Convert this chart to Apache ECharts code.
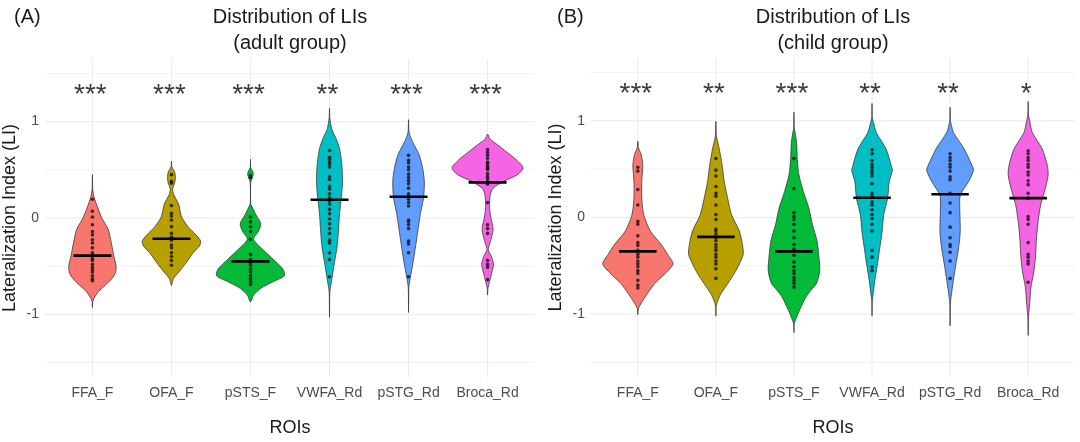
<!DOCTYPE html>
<html><head><meta charset="utf-8">
<script src="https://cdn.jsdelivr.net/npm/echarts@6/dist/echarts.min.js"></script>
<style>html,body{margin:0;padding:0;background:#fff}#c{width:1080px;height:442px}</style>
</head><body><div id="c"></div>
<script>
const categories = ['FFA_F','OFA_F','pSTS_F','VWFA_Rd','pSTG_Rd','Broca_Rd'];
const colors = ['#F8766D','#B79F00','#00BA38','#00BFC4','#619CFF','#F564E3'];
const adultStars = ['***','***','***','**','***','***'];
const childStars = ['***','**','***','**','**','*'];
const adultMedians = [-0.39,-0.215,-0.45,0.19,0.22,0.37];
const childMedians = [-0.35,-0.2,-0.35,0.205,0.24,0.2];
const yTicks = [-1,0,1];
const majorGrid = [-1,0,1];
const minorGrid = [-1.5,-0.5,0.5,1.5];

// violin outlines: [LI value, half width in category units]
const adultShapeFFA = [[0.45,0],[0.3,0.004],[0.22,0.02],[0.1,0.07],[0,0.12],[-0.12,0.2],[-0.26,0.24],[-0.39,0.27],[-0.5,0.3],[-0.57,0.29],[-0.63,0.245],[-0.7,0.16],[-0.76,0.08],[-0.82,0.03],[-0.86,0.006],[-0.93,0]];
const adultShapeOFA = [[0.59,0],[0.53,0.005],[0.48,0.04],[0.42,0.05],[0.36,0.04],[0.3,0.015],[0.24,0.03],[0.145,0.09],[0.01,0.13],[-0.09,0.21],[-0.175,0.31],[-0.24,0.37],[-0.29,0.355],[-0.36,0.275],[-0.46,0.19],[-0.56,0.095],[-0.63,0.025],[-0.7,0]];
const adultShapePSTS = [[0.61,0],[0.52,0.004],[0.48,0.03],[0.45,0.035],[0.41,0.02],[0.37,0.003],[0.15,0.003],[0.1,0.03],[0.04,0.065],[-0.06,0.13],[-0.14,0.1],[-0.22,0.04],[-0.33,0.16],[-0.43,0.29],[-0.53,0.41],[-0.6,0.43],[-0.66,0.29],[-0.73,0.13],[-0.8,0.04],[-0.87,0]];
const adultShapeVWFA = [[1.14,0],[1.04,0.004],[0.98,0.015],[0.92,0.03],[0.82,0.085],[0.72,0.127],[0.55,0.156],[0.38,0.165],[0.21,0.15],[0.045,0.127],[-0.12,0.114],[-0.29,0.097],[-0.46,0.063],[-0.63,0.03],[-0.74,0.008],[-0.8,0.003],[-1.03,0]];
const adultShapePSTG = [[1.02,0],[0.9,0.005],[0.85,0.02],[0.78,0.057],[0.65,0.137],[0.51,0.18],[0.38,0.2],[0.21,0.19],[0.045,0.15],[-0.12,0.12],[-0.29,0.09],[-0.46,0.057],[-0.63,0.02],[-0.72,0.004],[-0.98,0]];
const adultShapeBroca = [[0.87,0],[0.82,0.03],[0.785,0.085],[0.68,0.25],[0.6,0.37],[0.52,0.45],[0.45,0.38],[0.38,0.2],[0.31,0.07],[0.245,0.035],[0.11,0.025],[0.01,0.04],[-0.12,0.07],[-0.26,0.03],[-0.33,0.008],[-0.4,0.05],[-0.48,0.075],[-0.56,0.055],[-0.66,0.025],[-0.72,0.006],[-0.8,0]];

const childShapeFFA = [[0.79,0],[0.72,0.008],[0.66,0.04],[0.6,0.055],[0.54,0.064],[0.37,0.05],[0.2,0.05],[0.03,0.075],[-0.14,0.16],[-0.28,0.3],[-0.38,0.38],[-0.48,0.45],[-0.58,0.35],[-0.68,0.22],[-0.79,0.12],[-0.89,0.04],[-0.94,0.008],[-1.005,0]];
const childShapeOFA = [[0.995,0],[0.85,0.006],[0.79,0.02],[0.71,0.043],[0.54,0.08],[0.37,0.107],[0.2,0.15],[0.03,0.2],[-0.14,0.3],[-0.28,0.34],[-0.38,0.35],[-0.48,0.3],[-0.58,0.235],[-0.68,0.155],[-0.79,0.064],[-0.87,0.02],[-0.92,0.004],[-1.02,0]];
const childShapePSTS = [[1.09,0],[0.92,0.004],[0.88,0.015],[0.77,0.034],[0.6,0.043],[0.44,0.064],[0.27,0.12],[0.1,0.19],[-0.07,0.235],[-0.24,0.295],[-0.41,0.32],[-0.55,0.33],[-0.68,0.29],[-0.75,0.22],[-0.82,0.155],[-0.95,0.077],[-1.05,0.025],[-1.1,0.004],[-1.19,0]];
const childShapeVWFA = [[1.18,0],[1.03,0.004],[0.98,0.02],[0.88,0.054],[0.71,0.18],[0.54,0.245],[0.49,0.26],[0.37,0.22],[0.2,0.2],[0.03,0.15],[-0.14,0.13],[-0.31,0.1],[-0.48,0.07],[-0.65,0.036],[-0.82,0.01],[-0.86,0.003],[-1.02,0]];
const childShapePSTG = [[1.14,0],[1.0,0.004],[0.96,0.015],[0.88,0.043],[0.71,0.18],[0.54,0.28],[0.49,0.3],[0.37,0.235],[0.23,0.13],[0.1,0.124],[-0.14,0.13],[-0.31,0.11],[-0.48,0.075],[-0.65,0.043],[-0.82,0.013],[-0.9,0.003],[-1.12,0]];
const childShapeBroca = [[1.2,0],[1.06,0.004],[1.0,0.02],[0.88,0.053],[0.71,0.18],[0.54,0.245],[0.44,0.256],[0.3,0.22],[0.13,0.16],[-0.04,0.128],[-0.21,0.107],[-0.38,0.096],[-0.55,0.075],[-0.72,0.036],[-0.89,0.02],[-0.99,0.008],[-1.05,0.003],[-1.22,0]];

// individual LI values
const adultFFA = [0.195,0.07,0.01,-0.07,-0.14,-0.175,-0.225,-0.26,-0.31,-0.36,-0.39,-0.42,-0.44,-0.48,-0.51,-0.535,-0.56,-0.6,-0.63,-0.65];
const adultOFA = [0.45,0.38,0.36,0.13,0.05,0.02,-0.02,-0.09,-0.16,-0.2,-0.23,-0.28,-0.31,-0.36,-0.4,-0.44,-0.49];
const adultPSTS = [0.44,0.42,0.01,-0.04,-0.09,-0.14,-0.22,-0.38,-0.43,-0.46,-0.49,-0.53,-0.56,-0.6,-0.63,-0.66,-0.69];
const adultVWFA = [0.7,0.63,0.61,0.58,0.56,0.53,0.43,0.4,0.33,0.3,0.25,0.21,0.18,0.145,0.09,0.045,-0.01,-0.06,-0.11,-0.16,-0.23,-0.26,-0.36,-0.43,-0.61];
const adultPSTG = [0.65,0.6,0.57,0.53,0.5,0.455,0.42,0.39,0.355,0.31,0.25,0.22,0.195,0.16,0.125,-0.02,-0.04,-0.07,-0.11,-0.24,-0.27,-0.36,-0.61];
const adultBroca = [0.71,0.68,0.65,0.62,0.58,0.57,0.55,0.53,0.515,0.5,0.46,0.43,0.41,0.38,0.35,0.16,-0.07,-0.11,-0.16,-0.44,-0.48,-0.51,-0.64];

const childFFA = [0.52,0.48,0.29,0.13,-0.04,-0.07,-0.19,-0.26,-0.29,-0.34,-0.38,-0.41,-0.45,-0.48,-0.51,-0.55,-0.58,-0.65,-0.7,-0.73];
const childOFA = [0.61,0.49,0.43,0.32,0.25,0.22,0.13,0.03,-0.02,-0.12,-0.14,-0.17,-0.21,-0.24,-0.28,-0.31,-0.34,-0.38,-0.41,-0.45,-0.48,-0.53,-0.63];
const childPSTS = [0.61,0.3,0.05,0.01,-0.02,-0.07,-0.14,-0.21,-0.28,-0.33,-0.39,-0.46,-0.51,-0.55,-0.58,-0.62,-0.65,-0.68,-0.72];
const childVWFA = [0.7,0.66,0.59,0.55,0.52,0.49,0.46,0.43,0.35,0.25,0.22,0.16,0.13,0.08,0.03,-0.01,-0.07,-0.14,-0.34,-0.41,-0.51,-0.55];
const childPSTG = [0.66,0.62,0.59,0.55,0.52,0.48,0.42,0.39,0.25,0.15,0.05,-0.1,-0.21,-0.28,-0.3,-0.36,-0.45,-0.63];
const childBroca = [0.69,0.66,0.62,0.59,0.55,0.52,0.47,0.44,0.38,0.34,0.25,0.2,0.01,-0.02,-0.07,-0.26,-0.38,-0.41,-0.45,-0.48,-0.67];

const adultShapes = [adultShapeFFA,adultShapeOFA,adultShapePSTS,adultShapeVWFA,adultShapePSTG,adultShapeBroca];
const childShapes = [childShapeFFA,childShapeOFA,childShapePSTS,childShapeVWFA,childShapePSTG,childShapeBroca];
const adultPoints = [adultFFA,adultOFA,adultPSTS,adultVWFA,adultPSTG,adultBroca];
const childPoints = [childFFA,childOFA,childPSTS,childVWFA,childPSTG,childBroca];

const FONT = '"Liberation Sans", Arial, sans-serif';
const STAR_Y = 1.275;
const BAR_HALF = 0.24;

function panelSeries(g, shapes, points, medians, stars) {
  const s = [];
  const gridData = majorGrid.map(v => [1, v, 1]).concat(minorGrid.map(v => [1, v, 0]));
  s.push({
    type: 'custom', xAxisIndex: g, yAxisIndex: g, z: 0, silent: true,
    data: gridData,
    renderItem: (params, api) => {
      const cs = params.coordSys;
      const y = api.coord([1, api.value(1)])[1];
      return {type: 'line', shape: {x1: cs.x, y1: y, x2: cs.x + cs.width, y2: y},
        style: {stroke: api.value(2) ? '#ebebeb' : '#f3f3f3', lineWidth: 1}};
    }
  });
  s.push({
    type: 'custom', xAxisIndex: g, yAxisIndex: g, z: 0, silent: true,
    data: categories.map((c, i) => [i + 1, 0]),
    renderItem: (params, api) => {
      const cs = params.coordSys;
      const x = api.coord([api.value(0), 0])[0];
      return {type: 'line', shape: {x1: x, y1: cs.y, x2: x, y2: cs.y + cs.height},
        style: {stroke: '#ebebeb', lineWidth: 1}};
    }
  });
  s.push({
    type: 'custom', xAxisIndex: g, yAxisIndex: g, z: 2, silent: true,
    data: categories.map((c, i) => [i + 1, 0]),
    renderItem: (params, api) => {
      const i = api.value(0);
      const sh = shapes[i - 1];
      const right = sh.map(p => api.coord([i + p[1], p[0]]));
      const left = sh.slice(1, -1).reverse().map(p => api.coord([i - p[1], p[0]]));
      return {type: 'polygon', shape: {points: right.concat(left), smooth: 0.25},
        style: {fill: colors[i - 1], stroke: '#333', lineWidth: 0.75}};
    }
  });
  const dots = [];
  points.forEach((arr, i) => arr.forEach(v => dots.push([i + 1, v])));
  s.push({
    type: 'scatter', xAxisIndex: g, yAxisIndex: g, z: 3, silent: true,
    symbolSize: 3.6, itemStyle: {color: '#111'}, data: dots
  });
  s.push({
    type: 'custom', xAxisIndex: g, yAxisIndex: g, z: 4, silent: true,
    data: medians.map((m, i) => [i + 1, m]),
    renderItem: (params, api) => {
      const i = api.value(0), m = api.value(1);
      const a = api.coord([i - BAR_HALF, m]), b = api.coord([i + BAR_HALF, m]);
      return {type: 'line', shape: {x1: a[0], y1: a[1], x2: b[0], y2: b[1]},
        style: {stroke: '#000', lineWidth: 2.6}};
    }
  });
  s.push({
    type: 'custom', xAxisIndex: g, yAxisIndex: g, z: 4, silent: true,
    data: stars.map((t, i) => [i + 1, STAR_Y]),
    renderItem: (params, api) => {
      const i = api.value(0);
      const p = api.coord([i, api.value(1)]);
      return {type: 'text', x: p[0] - 2, y: p[1],
        style: {text: stars[i - 1], textAlign: 'center', textVerticalAlign: 'middle',
          font: '28px ' + FONT, fill: '#3c3c3c'}};
    }
  });
  return s;
}

function xAxisFor(g) {
  return {type: 'value', gridIndex: g, min: 0.4, max: 6.6,
    axisLine: {show: false}, axisTick: {show: false}, splitLine: {show: false},
    axisLabel: {customValues: [1,2,3,4,5,6], formatter: v => categories[Math.round(v) - 1] || '',
      color: '#4d4d4d', fontSize: 14, margin: 9, fontFamily: FONT},
    name: 'ROIs', nameLocation: 'middle', nameGap: 42,
    nameTextStyle: {fontSize: 18, color: '#1a1a1a', fontFamily: FONT}};
}
function yAxisFor(g) {
  return {type: 'value', gridIndex: g, min: -1.65, max: 1.65,
    axisLine: {show: false}, axisTick: {show: false}, splitLine: {show: false},
    axisLabel: {customValues: yTicks, color: '#4d4d4d', fontSize: 14, margin: 6, fontFamily: FONT},
    name: 'Lateralization Index (LI)', nameLocation: 'middle', nameGap: 26,
    nameTextStyle: {fontSize: 18, color: '#1a1a1a', fontFamily: FONT}};
}

const chart = echarts.init(document.getElementById('c'));
chart.setOption({
  animation: false,
  backgroundColor: '#fff',
  grid: [
    {left: 44, top: 59, width: 491, height: 324},
    {left: 591, top: 58, width: 484, height: 323}
  ],
  xAxis: [xAxisFor(0), xAxisFor(1)],
  yAxis: [yAxisFor(0), yAxisFor(1)],
  graphic: [
    {type: 'text', x: 290, y: 17, style: {text: 'Distribution of LIs', textAlign: 'center', textVerticalAlign: 'middle', font: '20px ' + FONT, fill: '#1a1a1a'}},
    {type: 'text', x: 290, y: 43, style: {text: '(adult group)', textAlign: 'center', textVerticalAlign: 'middle', font: '20px ' + FONT, fill: '#1a1a1a'}},
    {type: 'text', x: 14, y: 17, style: {text: '(A)', textAlign: 'left', textVerticalAlign: 'middle', font: '20px ' + FONT, fill: '#1a1a1a'}},
    {type: 'text', x: 833, y: 17, style: {text: 'Distribution of LIs', textAlign: 'center', textVerticalAlign: 'middle', font: '20px ' + FONT, fill: '#1a1a1a'}},
    {type: 'text', x: 833, y: 43, style: {text: '(child group)', textAlign: 'center', textVerticalAlign: 'middle', font: '20px ' + FONT, fill: '#1a1a1a'}},
    {type: 'text', x: 557, y: 17, style: {text: '(B)', textAlign: 'left', textVerticalAlign: 'middle', font: '20px ' + FONT, fill: '#1a1a1a'}}
  ],
  series: panelSeries(0, adultShapes, adultPoints, adultMedians, adultStars)
    .concat(panelSeries(1, childShapes, childPoints, childMedians, childStars))
});
</script></body></html>
